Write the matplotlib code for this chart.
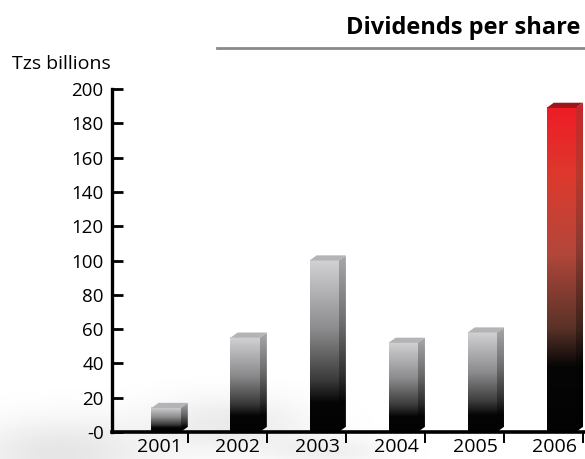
import numpy as np
import matplotlib
matplotlib.use("Agg")
import matplotlib.pyplot as plt
from matplotlib.colors import LinearSegmentedColormap
from matplotlib.patches import Polygon

years = ["2001", "2002", "2003", "2004", "2005", "2006"]
dividends = [14, 55, 100, 52, 58, 189]
y_ticks = [0, 20, 40, 60, 80, 100, 120, 140, 160, 180, 200]
y_labels = ["-0", "20", "40", "60", "80", "100", "120", "140", "160", "180", "200"]

plt.rcParams["font.family"] = ["Open Sans", "DejaVu Sans"]

gray_front = LinearSegmentedColormap.from_list("gray_front", [
    (0.0, "#030303"), (0.17, "#050505"), (0.30, "#3a3a3a"),
    (0.60, "#8c8c8e"), (1.0, "#d2d2d4")])
gray_side = LinearSegmentedColormap.from_list("gray_side", [
    (0.0, "#020202"), (0.17, "#050505"), (0.30, "#2a2a2a"),
    (0.60, "#6a6a6c"), (1.0, "#a8a8aa")])
red_front = LinearSegmentedColormap.from_list("red_front", [
    (0.0, "#030303"), (0.20, "#060606"), (0.32, "#5a3228"),
    (0.55, "#b2473a"), (0.78, "#dc3a2e"), (1.0, "#ee1c25")])
red_side = LinearSegmentedColormap.from_list("red_side", [
    (0.0, "#020202"), (0.20, "#050505"), (0.32, "#40241c"),
    (0.55, "#8a3a30"), (0.78, "#b8382c"), (1.0, "#c8262a")])

fig = plt.figure(figsize=(5.85, 4.59), dpi=100)

# faint grey smudge in the lower left background
bg = fig.add_axes([0, 0, 1, 1], zorder=-5)
gx, gy = np.meshgrid(np.linspace(0, 585, 300), np.linspace(0, 459, 240))
haze = (0.10 * np.exp(-(((gx - 60) / 90) ** 2 + ((gy - 455) / 35) ** 2))
        + 0.08 * np.exp(-(((gx - 230) / 80) ** 2 + ((gy - 425) / 28) ** 2))
        + 0.06 * np.exp(-(((gx - 330) / 60) ** 2 + ((gy - 452) / 15) ** 2)))
bg.imshow(1 - haze, cmap="gray", vmin=0, vmax=1, extent=[0, 585, 459, 0], aspect="auto")
bg.set_xlim(0, 585)
bg.set_ylim(459, 0)
bg.axis("off")

ax = fig.add_axes([112 / 585, 27 / 459, 1 - 112 / 585, 343 / 459])
ax.patch.set_alpha(0)

width = 0.37
dx = 0.09
dy = 3.0
grad = np.linspace(0, 1, 256).reshape(-1, 1)

for i, v in enumerate(dividends):
    front_cmap, side_cmap = (red_front, red_side) if i == 5 else (gray_front, gray_side)
    top_color = "#9e1418" if i == 5 else "#b4b4b6"
    x0 = i - width / 2
    x1 = i + width / 2
    ax.imshow(grad, cmap=front_cmap, origin="lower", aspect="auto",
              extent=[x0, x1, 0, v], zorder=3)
    side = Polygon([(x1, 0), (x1 + dx, dy), (x1 + dx, v + dy), (x1, v)],
                   closed=True, facecolor="none", edgecolor="none")
    ax.add_patch(side)
    im = ax.imshow(grad, cmap=side_cmap, origin="lower", aspect="auto",
                   extent=[x1, x1 + dx, 0, v + dy], zorder=3)
    im.set_clip_path(side)
    ax.add_patch(Polygon([(x0, v), (x1, v), (x1 + dx, v + dy), (x0 + dx, v + dy)],
                         closed=True, facecolor=top_color, edgecolor="none", zorder=3))

ax.set_xlim(-0.684, 5.30)
ax.set_ylim(0, 200)

for s in ["top", "right"]:
    ax.spines[s].set_visible(False)
ax.spines["left"].set_linewidth(2.4)
ax.spines["bottom"].set_linewidth(2.6)
ax.spines["bottom"].set_zorder(4)

ax.set_yticks(y_ticks)
ax.set_yticklabels(y_labels, fontsize=13.5)
ax.tick_params(axis="y", direction="in", length=8, width=2, pad=6)

# year labels sit a little left of each bar, small separator ticks to the right
ax.set_xticks([i - 0.09 for i in range(len(years))])
ax.set_xticklabels(years, fontsize=14)
ax.tick_params(axis="x", which="major", length=0, pad=4)
ax.set_xticks([i + 0.28 for i in range(len(years))], minor=True)
ax.tick_params(axis="x", which="minor", direction="out", length=8, width=1.4)

fig.text(580 / 585, 1 - 28 / 459, "Dividends per share", ha="right", va="center",
         fontsize=17, fontweight="bold")
fig.add_artist(plt.Line2D([217 / 585, 1], [1 - 48 / 459, 1 - 48 / 459],
                          color="#8a8a8a", linewidth=2))
fig.text(12 / 585, 1 - 64 / 459, "Tzs billions", ha="left", va="center", fontsize=14)

fig.savefig("out.png", dpi=100)
